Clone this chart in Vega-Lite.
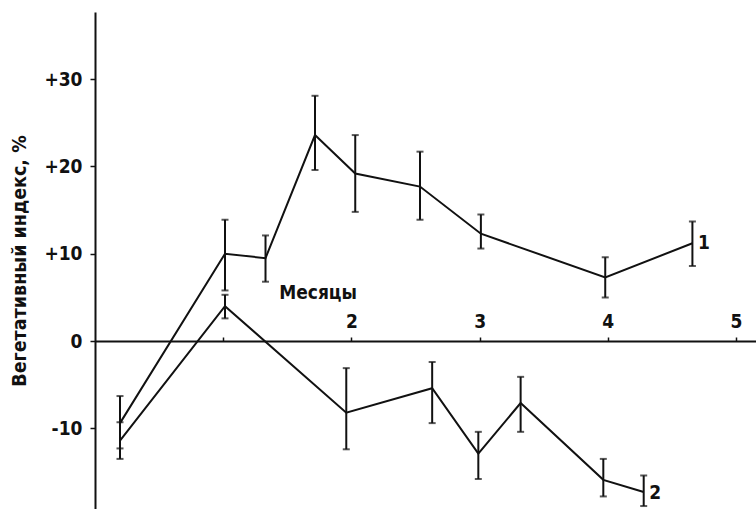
{
  "$schema": "https://vega.github.io/schema/vega-lite/v6.json",
  "width": 661,
  "height": 497,
  "autosize": {"type": "none"},
  "padding": {"left": 95, "top": 12, "right": 0, "bottom": 0},
  "background": "white",
  "config": {
    "view": {"stroke": null},
    "font": "Liberation Sans Narrow, DejaVu Sans Condensed, Arial Narrow, sans-serif"
  },
  "datasets": {
    "pts": [
      {"series": "1", "month": 0.195, "value": -9.4, "lo": -12.3, "hi": -6.3},
      {"series": "1", "month": 1.014, "value": 10.0, "lo": 5.8, "hi": 13.9},
      {"series": "1", "month": 1.33, "value": 9.5, "lo": 6.8, "hi": 12.1},
      {"series": "1", "month": 1.716, "value": 23.6, "lo": 19.6, "hi": 28.1},
      {"series": "1", "month": 2.03, "value": 19.2, "lo": 14.8, "hi": 23.6},
      {"series": "1", "month": 2.535, "value": 17.7, "lo": 13.9, "hi": 21.7},
      {"series": "1", "month": 3.01, "value": 12.3, "lo": 10.6, "hi": 14.5},
      {"series": "1", "month": 3.98, "value": 7.3, "lo": 5.0, "hi": 9.6},
      {"series": "1", "month": 4.66, "value": 11.2, "lo": 8.6, "hi": 13.7},
      {"series": "2", "month": 0.195, "value": -11.4, "lo": -13.5, "hi": -9.3},
      {"series": "2", "month": 1.014, "value": 4.0, "lo": 2.6, "hi": 5.3},
      {"series": "2", "month": 1.96, "value": -8.2, "lo": -12.4, "hi": -3.1},
      {"series": "2", "month": 2.63, "value": -5.4, "lo": -9.4, "hi": -2.4},
      {"series": "2", "month": 2.99, "value": -12.9, "lo": -15.8, "hi": -10.4},
      {"series": "2", "month": 3.32, "value": -7.1, "lo": -10.4, "hi": -4.1},
      {"series": "2", "month": 3.965, "value": -15.9, "lo": -17.8, "hi": -13.5},
      {"series": "2", "month": 4.28, "value": -17.3, "lo": -18.9, "hi": -15.4}
    ],
    "labels": [
      {"text": "1", "month": 4.75, "value": 11.2},
      {"text": "2", "month": 4.37, "value": -17.4},
      {"text": "Месяцы", "month": 1.74, "value": 5.5}
    ]
  },
  "layer": [
    {
      "data": {"name": "pts"},
      "mark": {"type": "line", "color": "#111", "strokeWidth": 2},
      "encoding": {
        "x": {
          "field": "month", "type": "quantitative",
          "scale": {"domain": [0, 5.156], "nice": false, "zero": false},
          "axis": {
            "orient": "top", "offset": -329, "values": [1, 2, 3, 4, 5],
            "labelExpr": "datum.value == 1 ? '' : '' + datum.value",
            "domainColor": "#111", "domainWidth": 2,
            "tickColor": "#111", "tickSize": 4, "tickWidth": 1.5,
            "labelFontSize": 19, "labelFontWeight": "bold", "labelColor": "#111",
            "labelPadding": 6, "grid": false, "title": null
          }
        },
        "y": {
          "field": "value", "type": "quantitative",
          "scale": {"domain": [-19.24, 37.7], "nice": false, "zero": false},
          "axis": {
            "values": [-10, 0, 10, 20, 30],
            "labelExpr": "datum.value > 0 ? '+' + datum.value : '' + datum.value",
            "domainColor": "#111", "domainWidth": 2,
            "tickColor": "#111", "tickSize": 5, "tickWidth": 1.5,
            "labelFontSize": 19, "labelFontWeight": "bold", "labelColor": "#111",
            "labelPadding": 8, "grid": false,
            "title": "Вегетативный индекс, %",
            "titleFontSize": 19.5, "titleFontWeight": "bold", "titleColor": "#111",
            "titlePadding": 14
          }
        },
        "detail": {"field": "series"}
      }
    },
    {
      "data": {"name": "pts"},
      "mark": {"type": "rule", "color": "#111", "strokeWidth": 2},
      "encoding": {
        "x": {"field": "month", "type": "quantitative"},
        "y": {"field": "lo", "type": "quantitative"},
        "y2": {"field": "hi"}
      }
    },
    {
      "data": {"name": "pts"},
      "mark": {"type": "tick", "orient": "horizontal", "color": "#111", "size": 7, "thickness": 2},
      "encoding": {
        "x": {"field": "month", "type": "quantitative"},
        "y": {"field": "lo", "type": "quantitative"}
      }
    },
    {
      "data": {"name": "pts"},
      "mark": {"type": "tick", "orient": "horizontal", "color": "#111", "size": 7, "thickness": 2},
      "encoding": {
        "x": {"field": "month", "type": "quantitative"},
        "y": {"field": "hi", "type": "quantitative"}
      }
    },
    {
      "data": {"name": "labels"},
      "mark": {"type": "text", "fontSize": 19, "fontWeight": "bold", "color": "#111", "align": "center", "baseline": "middle"},
      "encoding": {
        "x": {"field": "month", "type": "quantitative"},
        "y": {"field": "value", "type": "quantitative"},
        "text": {"field": "text"}
      }
    }
  ]
}
